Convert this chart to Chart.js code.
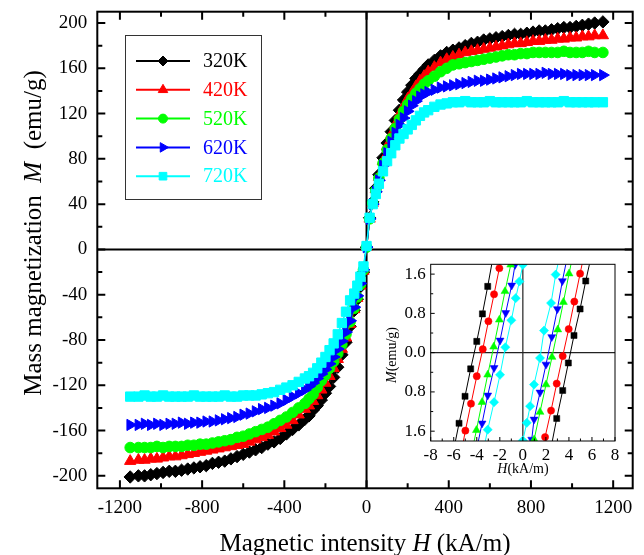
<!DOCTYPE html>
<html>
<head>
<meta charset="utf-8">
<script src="https://cdn.jsdelivr.net/npm/chart.js@4.4.1/dist/chart.umd.min.js"></script>
<style>
  body { margin: 0; background: #fff; }
  #wrap { position: relative; width: 644px; height: 555px; }
  #main { position: absolute; left: 0; top: 0; }
  #inset { position: absolute; left: 378px; top: 256px; background: #fff; }
</style>
</head>
<body>
<div id="wrap">
  <canvas id="main" width="644" height="555"></canvas>
  <canvas id="inset" width="244" height="222"></canvas>
</div>
<script>
// temperatures and colours of the five curves
const temps = ['320K', '420K', '520K', '620K', '720K'];
const colors = ['#000000', '#ff0000', '#00ff00', '#0000ff', '#00ffff'];

// main plot: field H (kA/m) and magnetization M (emu/g)
const fieldH = [-1150, -1110, -1080, -1050, -1020, -990, -960, -930, -900, -870, -840, -810, -780, -750, -720,
  -690, -660, -630, -600, -570, -540, -510, -480, -450, -420, -390, -360, -330, -300, -280, -260, -240, -220,
  -200, -180, -160, -140, -120, -100, -80, -60, -45, -30, -15, 0, 15, 30, 45, 60, 80, 100, 120, 140, 160, 180,
  200, 220, 240, 260, 280, 300, 330, 360, 390, 420, 450, 480, 510, 540, 570, 600, 630, 660, 690, 720, 750, 780,
  810, 840, 870, 900, 930, 960, 990, 1020, 1050, 1080, 1110, 1150];

const m320 = [-201, -200, -200, -199, -198, -197, -196, -196, -195, -194, -193, -192, -191, -189, -188, -187, -185,
  -183, -181, -179, -177, -175, -172, -170, -167, -163, -159, -155, -150, -147, -142, -138, -133, -127, -121, -113,
  -104, -93, -82, -68, -54, -44, -33, -20, 2, 28, 42, 54, 66, 81, 94, 104, 114, 123, 132, 139, 145, 151, 155, 159,
  163, 167, 171, 174, 176, 178, 180, 182, 183, 185, 186, 187, 188, 189, 190, 190, 191, 192, 193, 193, 194, 195,
  196, 196, 197, 198, 199, 200, 201];
const m420 = [-187, -186, -186, -185, -185, -184, -183, -183, -182, -181, -180, -179, -178, -177, -176, -175, -174,
  -173, -172, -170, -168, -166, -164, -161, -158, -155, -151, -146, -141, -138, -134, -129, -124, -118, -112, -105,
  -97, -88, -78, -66, -53, -43, -32, -19, 2, 27, 41, 53, 64, 78, 91, 101, 110, 119, 126, 133, 138, 144, 149, 153,
  157, 161, 165, 168, 170, 172, 174, 175, 176, 177, 178, 179, 180, 181, 182, 182, 183, 184, 184, 185, 185, 186,
  186, 187, 187, 188, 188, 189, 189];
const m520 = [-175, -175, -175, -175, -174, -175, -174, -174, -174, -173, -173, -172, -172, -171, -170, -169, -168,
  -166, -165, -163, -161, -159, -157, -154, -151, -148, -144, -140, -136, -132, -128, -122, -116, -111, -105, -99,
  -92, -84, -75, -64, -52, -42, -31, -18, 2, 27, 41, 52, 63, 76, 88, 98, 107, 115, 122, 128, 133, 138, 142, 146,
  149, 153, 157, 160, 163, 164, 165, 166, 167, 168, 169, 170, 171, 172, 172, 173, 173, 174, 174, 174, 174, 174,
  175, 174, 174, 174, 175, 174, 174];
const m620 = [-155, -155, -154, -155, -154, -155, -154, -154, -153, -154, -153, -153, -152, -152, -151, -150, -149,
  -148, -146, -145, -143, -141, -140, -138, -136, -133, -130, -127, -124, -121, -118, -114, -110, -106, -101, -95,
  -88, -81, -73, -63, -51, -41, -30, -18, 2, 27, 40, 51, 61, 74, 85, 95, 103, 110, 116, 122, 127, 131, 135, 137,
  139, 141, 143, 144, 145, 146, 147, 148, 149, 149, 150, 151, 152, 153, 154, 155, 155, 155, 155, 156, 155, 155,
  155, 154, 154, 154, 154, 154, 154];
const m720 = [-130, -130, -129, -130, -130, -129, -130, -130, -130, -130, -129, -130, -130, -130, -130, -129, -130,
  -130, -129, -129, -129, -128, -127, -126, -124, -122, -120, -117, -114, -112, -109, -105, -100, -95, -89, -83,
  -75, -65, -55, -45, -39, -32, -24, -15, 3, 28, 40, 49, 58, 69, 78, 85, 92, 98, 102, 106, 110, 114, 118, 121,
  123, 126, 128, 129, 130, 130, 131, 130, 130, 130, 131, 130, 130, 130, 130, 130, 131, 130, 130, 130, 130, 130,
  131, 130, 130, 130, 130, 130, 130];
const mainSeries = [m320, m420, m520, m620, m720];

// main axes ticks
const xTicks = [-1200, -800, -400, 0, 400, 800, 1200];
const xTickLabels = ['-1200', '-800', '-400', '0', '400', '800', '1200'];
const xMinor = [-1000, -600, -200, 200, 600, 1000];
const yTicks = [-200, -160, -120, -80, -40, 0, 40, 80, 120, 160, 200];
const yTickLabels = ['-200', '-160', '-120', '-80', '-40', '0', '40', '80', '120', '160', '200'];
const yMinor = [-180, -140, -100, -60, -20, 20, 60, 100, 140, 180];

// inset: low-field loop branches (H in kA/m, M in emu/g), decreasing and increasing field
const h320Dec = [-5.85, -5.54, -5.02, -4.53, -4.00, -3.51, -3.05, -2.70];
const m320Dec = [-1.80, -1.44, -0.89, -0.33, 0.23, 0.79, 1.35, 1.80];
const h320Inc = [2.56, 2.94, 3.46, 3.95, 4.44, 4.97, 5.46, 5.78];
const m320Inc = [-1.80, -1.34, -0.77, -0.21, 0.35, 0.89, 1.46, 1.80];
const h420Dec = [-5.16, -4.99, -4.50, -4.00, -3.48, -2.99, -2.50, -2.04, -1.97];
const m420Dec = [-1.80, -1.59, -1.04, -0.48, 0.07, 0.64, 1.19, 1.72, 1.80];
const h420Inc = [1.86, 1.93, 2.45, 2.94, 3.46, 3.98, 4.47, 4.97, 5.14];
const m420Inc = [-1.80, -1.72, -1.18, -0.63, -0.07, 0.48, 1.04, 1.61, 1.80];
const h520Dec = [-4.23, -4.03, -3.54, -3.05, -2.53, -2.04, -1.55, -1.05, -1.04];
const m520Dec = [-1.80, -1.58, -1.01, -0.45, 0.12, 0.67, 1.25, 1.79, 1.80];
const h520Inc = [0.94, 0.98, 1.49, 2.01, 2.53, 3.03, 3.52, 4.01, 4.18];
const m520Inc = [-1.80, -1.77, -1.21, -0.65, -0.09, 0.47, 1.03, 1.61, 1.80];
const h620Dec = [-3.86, -3.54, -3.05, -2.50, -1.98, -1.49, -0.97, -0.68, -0.67];
const m620Dec = [-1.80, -1.44, -0.87, -0.31, 0.25, 0.81, 1.37, 1.79, 1.80];
const h620Inc = [0.75, 0.77, 0.97, 1.49, 2.01, 2.51, 3.00, 3.43, 3.73];
const m620Inc = [-1.80, -1.77, -1.36, -0.81, -0.24, 0.32, 0.89, 1.46, 1.80];
const h720Dec = [-3.26, -3.05, -2.50, -1.98, -1.52, -1.00, -0.62, -0.30, 0.00, 0.01];
const m720Dec = [-1.80, -1.57, -1.01, -0.45, 0.11, 0.66, 1.11, 1.45, 1.79, 1.80];
const h720Inc = [-0.01, 0.00, 0.34, 0.63, 0.97, 1.49, 1.84, 2.45, 2.85, 3.04];
const m720Inc = [-1.80, -1.79, -1.43, -1.09, -0.65, -0.11, 0.45, 1.01, 1.59, 1.80];
const insetBranches = [
  [h320Dec, m320Dec, h320Inc, m320Inc],
  [h420Dec, m420Dec, h420Inc, m420Inc],
  [h520Dec, m520Dec, h520Inc, m520Inc],
  [h620Dec, m620Dec, h620Inc, m620Inc],
  [h720Dec, m720Dec, h720Inc, m720Inc]
];

const insetXTicks = [-8, -6, -4, -2, 0, 2, 4, 6, 8];
const insetXMinor = [-7, -5, -3, -1, 1, 3, 5, 7];
const insetYTicks = [-1.6, -0.8, 0, 0.8, 1.6];
const insetYTickLabels = ['1.6', '0.8', '0.0', '0.8', '1.6'];
const insetYMinor = [-1.2, -0.4, 0.4, 1.2];

// marker styles
const mainStyles = ['rectRot', 'triangle', 'circle', 'triangle', 'rect'];
const mainRotation = [0, 0, 0, 90, 0];
const mainRadius = [6.2, 6.5, 5.3, 6.5, 6.6];
const legendRadius = [5, 5.5, 4.5, 5.5, 5.4];
const insetStyles = ['rect', 'circle', 'triangle', 'triangle', 'rectRot'];
const insetRotation = [0, 0, 0, 180, 0];
const insetRadius = [4.3, 3.6, 4.6, 4.6, 4.6];

const SERIF = '"Liberation Serif", "Times New Roman", serif';
Chart.defaults.font.family = SERIF;
Chart.defaults.color = '#000';

// frame, inward ticks on all four sides, zero lines
const axisFrame = {
  id: 'axisFrame',
  beforeDatasetsDraw(chart, args, o) {
    const { ctx, chartArea: a, scales: { x, y } } = chart;
    const x0 = x.getPixelForValue(0), y0 = y.getPixelForValue(0);
    ctx.save();
    ctx.strokeStyle = o.zeroColor;
    ctx.lineWidth = o.zeroWidth;
    ctx.beginPath();
    ctx.moveTo(x0, a.top); ctx.lineTo(x0, a.bottom);
    ctx.moveTo(a.left, y0); ctx.lineTo(a.right, y0);
    ctx.stroke();
    ctx.restore();
  },
  afterDatasetsDraw(chart, args, o) {
    const { ctx, chartArea: a, scales: { x, y } } = chart;
    ctx.save();
    ctx.strokeStyle = '#000';
    ctx.lineWidth = o.width;
    ctx.beginPath();
    const xt = (vals, len) => vals.forEach(v => {
      const p = x.getPixelForValue(v);
      ctx.moveTo(p, a.bottom); ctx.lineTo(p, a.bottom - len);
      if (o.mirror) { ctx.moveTo(p, a.top); ctx.lineTo(p, a.top + len); }
    });
    const yt = (vals, len) => vals.forEach(v => {
      const p = y.getPixelForValue(v);
      ctx.moveTo(a.left, p); ctx.lineTo(a.left + len, p);
      if (o.mirror) { ctx.moveTo(a.right, p); ctx.lineTo(a.right - len, p); }
    });
    xt(o.xMajor, o.major); xt(o.xMinor, o.minor);
    yt(o.yMajor, o.major); yt(o.yMinor, o.minor);
    ctx.stroke();
    ctx.strokeRect(a.left, a.top, a.right - a.left, a.bottom - a.top);
    ctx.restore();
  }
};

// axis titles with an italic symbol
function richText(ctx, parts, x, y, size, rotate) {
  ctx.save();
  ctx.translate(x, y);
  if (rotate) ctx.rotate(-Math.PI / 2);
  ctx.textBaseline = 'alphabetic';
  ctx.textAlign = 'left';
  ctx.fillStyle = '#000';
  let total = 0;
  const widths = parts.map(p => {
    ctx.font = (p.italic ? 'italic ' : '') + size + 'px ' + SERIF;
    const w = ctx.measureText(p.text).width;
    total += w;
    return w;
  });
  let cx = -total / 2;
  parts.forEach((p, i) => {
    ctx.font = (p.italic ? 'italic ' : '') + size + 'px ' + SERIF;
    ctx.fillText(p.text, cx, 0);
    cx += widths[i];
  });
  ctx.restore();
}

const axisTitles = {
  id: 'axisTitles',
  afterDraw(chart, args, o) {
    o.items.forEach(t => richText(chart.ctx, t.parts, t.x, t.y, t.size, t.rotate));
  }
};

const legendBox = {
  id: 'legendBox',
  afterDraw(chart) {
    const ctx = chart.ctx;
    ctx.save();
    ctx.strokeStyle = '#333';
    ctx.lineWidth = 1;
    ctx.strokeRect(125.5, 35.5, 136, 164);
    temps.forEach((t, i) => {
      const yy = 61 + i * 28.8;
      ctx.strokeStyle = colors[i];
      ctx.fillStyle = colors[i];
      ctx.lineWidth = 2;
      ctx.beginPath(); ctx.moveTo(136, yy); ctx.lineTo(190, yy); ctx.stroke();
      ctx.lineWidth = 1;
      Chart.helpers.drawPoint(ctx, { pointStyle: mainStyles[i], radius: legendRadius[i], rotation: mainRotation[i], borderWidth: 1 }, 163, yy);
      ctx.font = '20px ' + SERIF;
      ctx.textBaseline = 'middle';
      ctx.textAlign = 'left';
      ctx.fillText(t, 203, yy + 1);
    });
    ctx.restore();
  }
};

const noPad = s => { s.paddingTop = 0; s.paddingBottom = 0; s.paddingLeft = 0; s.paddingRight = 0; };

// main chart: draw 720K first in the list so it sits on top
const mainDatasets = mainSeries.map((m, i) => ({
  label: temps[i],
  data: fieldH.map((h, k) => ({ x: h, y: m[k] })),
  showLine: true,
  borderColor: colors[i],
  backgroundColor: colors[i],
  borderWidth: 1.5,
  pointStyle: mainStyles[i],
  pointRotation: mainRotation[i],
  pointRadius: mainRadius[i],
  pointBorderWidth: 1,
  pointBorderColor: colors[i],
  pointBackgroundColor: colors[i]
})).reverse();

new Chart(document.getElementById('main'), {
  type: 'scatter',
  data: { datasets: mainDatasets },
  options: {
    responsive: false,
    animation: false,
    events: [],
    layout: { padding: { left: 0, top: 11.7, right: 11.3, bottom: 0 } },
    scales: {
      x: {
        type: 'linear', min: -1310, max: 1295,
        afterBuildTicks: s => { s.ticks = xTicks.map(v => ({ value: v })); },
        afterFit: s => { s.height = 66.7; noPad(s); },
        grid: { display: false, drawTicks: false },
        border: { display: false },
        ticks: { padding: 8, maxRotation: 0, autoSkip: false, font: { size: 19 }, color: '#000',
          callback: (v, i) => xTickLabels[i] }
      },
      y: {
        type: 'linear', min: -211, max: 210,
        afterBuildTicks: s => { s.ticks = yTicks.map(v => ({ value: v })); },
        afterFit: s => { s.width = 97.3; noPad(s); },
        grid: { display: false, drawTicks: false },
        border: { display: false },
        ticks: { padding: 10, autoSkip: false, font: { size: 19 }, color: '#000',
          callback: (v, i) => yTickLabels[i] }
      }
    },
    plugins: {
      legend: { display: false },
      tooltip: { enabled: false },
      axisFrame: { xMajor: xTicks, xMinor: xMinor, yMajor: yTicks, yMinor: yMinor,
        major: 8, minor: 5, width: 2, mirror: true, zeroColor: '#000', zeroWidth: 2 },
      axisTitles: { items: [
        { parts: [{ text: 'Magnetic intensity ' }, { text: 'H', italic: true }, { text: ' (kA/m)' }], x: 365, y: 551, size: 25 },
        { parts: [{ text: 'Mass magnetization  ' }, { text: 'M', italic: true }, { text: '  (emu/g)' }], x: 41, y: 233, size: 25, rotate: true }
      ] }
    }
  },
  plugins: [axisFrame, axisTitles, legendBox]
});

// inset chart
const insetDatasets = [];
insetBranches.forEach((b, i) => {
  [[b[0], b[1]], [b[2], b[3]]].forEach(([hs, ms]) => {
    insetDatasets.push({
      label: temps[i],
      data: hs.map((h, k) => ({ x: h, y: ms[k] })),
      showLine: true,
      borderColor: colors[i],
      backgroundColor: colors[i],
      borderWidth: 1,
      pointStyle: insetStyles[i],
      pointRotation: insetRotation[i],
      pointRadius: c => (c.dataIndex === 0 || c.dataIndex === hs.length - 1) ? 0 : insetRadius[i],
      pointBorderWidth: 0.5,
      pointBorderColor: colors[i],
      pointBackgroundColor: colors[i]
    });
  });
});

new Chart(document.getElementById('inset'), {
  type: 'scatter',
  data: { datasets: insetDatasets },
  options: {
    responsive: false,
    animation: false,
    events: [],
    layout: { padding: { left: 0, top: 8.3, right: 7, bottom: 0 } },
    scales: {
      x: {
        type: 'linear', min: -8, max: 8,
        afterBuildTicks: s => { s.ticks = insetXTicks.map(v => ({ value: v })); },
        afterFit: s => { s.height = 37; noPad(s); },
        grid: { display: false, drawTicks: false },
        border: { display: false },
        ticks: { padding: 4, maxRotation: 0, autoSkip: false, font: { size: 17 }, color: '#000' }
      },
      y: {
        type: 'linear', min: -1.8, max: 1.8,
        afterBuildTicks: s => { s.ticks = insetYTicks.map(v => ({ value: v })); },
        afterFit: s => { s.width = 52.7; noPad(s); },
        grid: { display: false, drawTicks: false },
        border: { display: false },
        ticks: { padding: 5, autoSkip: false, font: { size: 17 }, color: '#000',
          callback: (v, i) => insetYTickLabels[i] }
      }
    },
    plugins: {
      legend: { display: false },
      tooltip: { enabled: false },
      axisFrame: { xMajor: insetXTicks, xMinor: insetXMinor, yMajor: insetYTicks, yMinor: insetYMinor,
        major: 4, minor: 2.5, width: 1, mirror: false, zeroColor: '#222', zeroWidth: 1.2 },
      axisTitles: { items: [
        { parts: [{ text: 'H', italic: true }, { text: '(kA/m)' }], x: 145, y: 217, size: 14 },
        { parts: [{ text: 'M', italic: true }, { text: '(emu/g)' }], x: 18, y: 99, size: 14, rotate: true }
      ] }
    }
  },
  plugins: [axisFrame, axisTitles]
});
</script>
</body>
</html>
